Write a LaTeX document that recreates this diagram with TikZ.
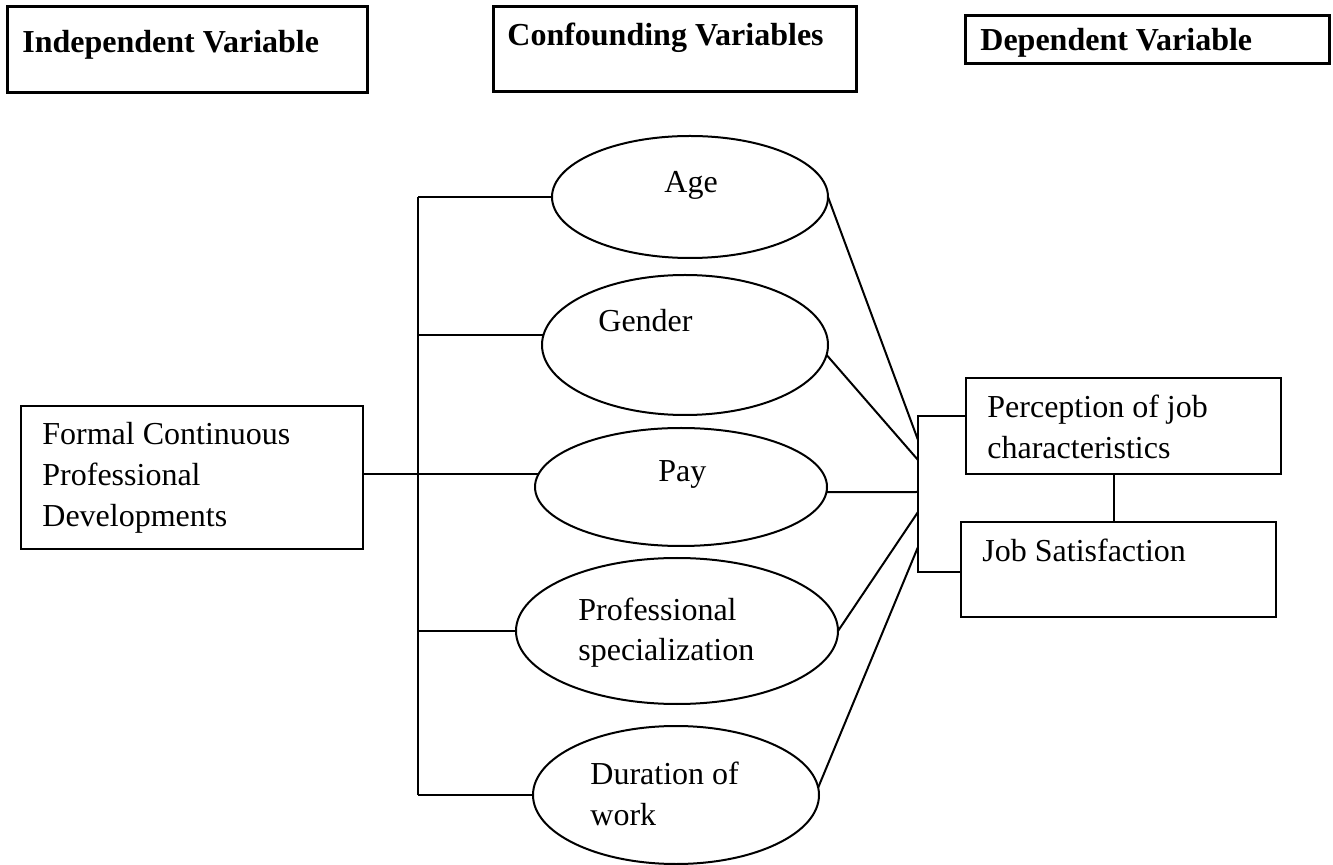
\documentclass[tikz,border=0pt]{standalone}
\usepackage{fontspec}
\setmainfont{Liberation Serif}
\usetikzlibrary{shapes.geometric}
\newcommand{\twolines}[2]{\vtop{\hbox{#1}\hbox{#2}}}
\newcommand{\threelines}[3]{\vtop{\hbox{#1}\hbox{#2}\hbox{#3}}}
\begin{document}
\begin{tikzpicture}[x=0.5pt,y=-0.5pt,
  hdr/.style={draw,line width=1.5pt,rectangle,anchor=north west,inner sep=0,outer sep=0},
  box/.style={draw,line width=1pt,rectangle,anchor=north west,inner sep=0,outer sep=0},
  var/.style={draw,line width=1pt,ellipse,inner sep=0,outer sep=0},
  txt/.style={anchor=base west,inner sep=0,font=\fontsize{16pt}{20.5pt}\selectfont},
  htxt/.style={anchor=base west,inner sep=0,font=\fontsize{16pt}{20.5pt}\selectfont\bfseries},
  link/.style={line width=1pt}]
\useasboundingbox (0,0) rectangle (1333,865);

% header boxes
\node[hdr,minimum width=180pt,minimum height=43pt] (h1) at (7,7) {};
\node[hdr,minimum width=181.5pt,minimum height=42.5pt] (h2) at (493,7) {};
\node[hdr,minimum width=182pt,minimum height=24pt] (h3) at (965,16) {};
\node[htxt] (h1t) at (22,53) {Independent Variable};
\node[htxt] (h2t) at (507,46) {Confounding Variables};
\node[htxt] (h3t) at (980,51) {Dependent Variable};

% independent variable
\node[box,minimum width=171pt,minimum height=71.5pt] (fcpd) at (21,406) {};
\node[txt] (fcpdt) at (42,445) {\threelines{Formal Continuous}{Professional}{Developments}};

% confounding variables
\node[var,minimum width=138pt,minimum height=61pt] (age) at (690,197) {};
\node[var,minimum width=143pt,minimum height=70pt] (gen) at (685,345) {};
\node[var,minimum width=146pt,minimum height=59pt] (pay) at (681,487) {};
\node[var,minimum width=161pt,minimum height=73pt] (prof) at (677,631) {};
\node[var,minimum width=143pt,minimum height=69pt] (dur) at (676,795) {};
\node[txt] (aget) at (664,193) {Age};
\node[txt] (gent) at (598,332) {Gender};
\node[txt] (payt) at (658,482) {Pay};
\node[txt] (proft) at (578,620) {\twolines{Professional}{specialization}};
\node[txt] (durt) at (590,784) {\twolines{Duration of}{work}};

% dependent variable
\node[box,minimum width=157.5pt,minimum height=48pt] (perc) at (966,378) {};
\node[box,minimum width=157.5pt,minimum height=47.5pt] (js) at (961,522) {};
\node[txt] (perct) at (987,418) {\twolines{Perception of job}{characteristics}};
\node[txt] (jst) at (982,562) {Job Satisfaction};

% connector points
\coordinate (busT) at (418,197);
\coordinate (busB) at (418,795);
\coordinate (busP) at (418,474);
\coordinate (brT) at (918,416);
\coordinate (brB) at (918,572);
\coordinate (bA) at (918,440);
\coordinate (bG) at (918,460);
\coordinate (bP) at (918,492);
\coordinate (bS) at (918,512);
\coordinate (bD) at (918,547);
\coordinate (mid) at (1114,500);

% left bus
\draw[link] (busT) -- (busB);
\draw[link] (busT) -- (age.west);
\draw[link] (busT |- gen.176) -- (gen.176);
\draw[link] (busP -| fcpd.east) -- (busP) -- (busP -| pay.175);
\draw[link] (busT |- prof.west) -- (prof.west);
\draw[link] (busB) -- (dur.west);

% right fan
\draw[link] (age.east) -- (bA);
\draw[link] (gen.-4) -- (bG);
\draw[link] (pay.-2) -- (bP);
\draw[link] (prof.east) -- (bS);
\draw[link] (dur.3) -- (bD);

% right bracket
\draw[link] (brT -| perc.west) -- (brT) -- (brB) -- (brB -| js.west);
\draw[link] (perc.south -| mid) -- (js.north -| mid);
\end{tikzpicture}
\end{document}
